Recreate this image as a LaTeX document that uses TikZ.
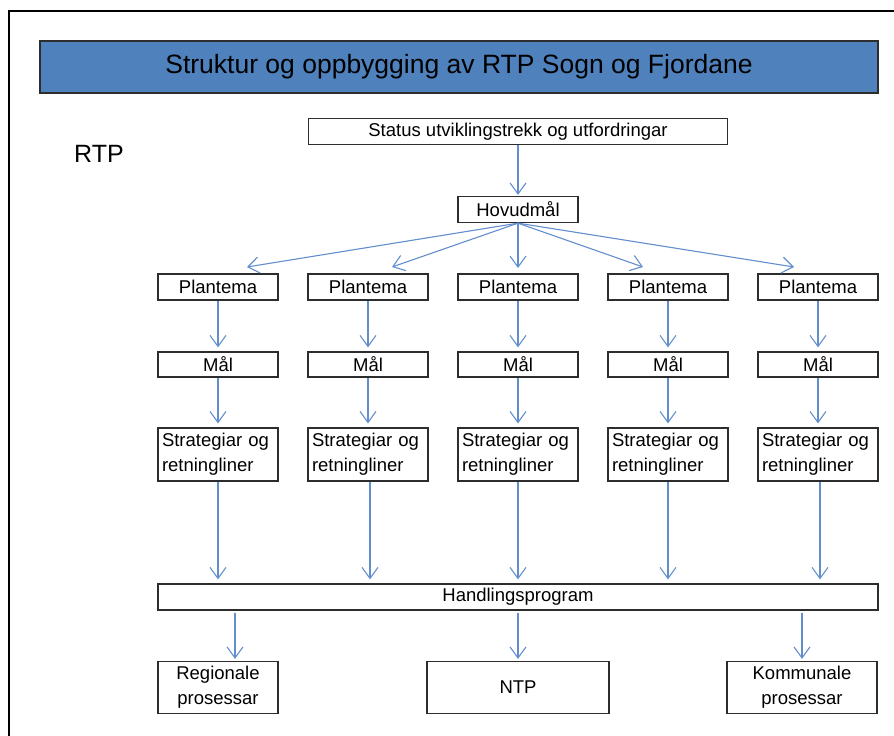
\documentclass[tikz,border=0pt]{standalone}
\usepackage{fontspec}
\setmainfont{Liberation Sans}
\usetikzlibrary{arrows.meta}

\definecolor{titleblue}{RGB}{79,129,189}
\definecolor{arrowblue}{RGB}{98,142,205}
\definecolor{boxline}{RGB}{45,45,45}

\tikzset{
  box/.style={draw=boxline, line width=1.3pt, minimum width=120pt, minimum height=26pt,
    inner sep=0pt, font=\fontsize{18.5}{25}\selectfont},
  twoline/.style={box, minimum height=52pt, align=center},
  stratbox/.style={box, text width=112pt, inner xsep=4pt, minimum height=53pt, align=left},
  pil/.style={draw=arrowblue, line width=1.1pt, -{Straight Barb[length=11pt, width=16pt]}}
}

\begin{document}
\begin{tikzpicture}[x=1pt, y=-1pt]
\useasboundingbox (0,0) rectangle (894,736);

% ramme og tittel
\draw[line width=2.5pt] (894,11) -- (9,11) -- (9,736);
\node[draw=boxline, line width=1.3pt, fill=titleblue, minimum width=838pt, minimum height=52pt,
  font=\fontsize{26.5}{30}\selectfont] (tittel) at (459,67) {Struktur og oppbygging av RTP Sogn og Fjordane};
\node[font=\fontsize{25}{30}\selectfont, inner sep=0pt] (rtp) at (99,154) {RTP};

\node[box, minimum width=419pt] (status) at (518,131.5) {Status utviklingstrekk og utfordringar};
\node[box] (hovud) at (518,209.5) {Hovudmål};

\node[box] (p1) at (218,287) {Plantema};
\node[box] (p2) at (368,287) {Plantema};
\node[box] (p3) at (518,287) {Plantema};
\node[box] (p4) at (668,287) {Plantema};
\node[box] (p5) at (818,287) {Plantema};

\node[box, minimum height=25pt] (m1) at (218,364.5) {Mål};
\node[box, minimum height=25pt] (m2) at (368,364.5) {Mål};
\node[box, minimum height=25pt] (m3) at (518,364.5) {Mål};
\node[box, minimum height=25pt] (m4) at (668,364.5) {Mål};
\node[box, minimum height=25pt] (m5) at (818,364.5) {Mål};

\node[stratbox] (s1) at (218,454.5) {Strategiar og\\retningliner};
\node[stratbox] (s2) at (368,454.5) {Strategiar og\\retningliner};
\node[stratbox] (s3) at (518,454.5) {Strategiar og\\retningliner};
\node[stratbox] (s4) at (668,454.5) {Strategiar og\\retningliner};
\node[stratbox] (s5) at (818,454.5) {Strategiar og\\retningliner};

\node[box, minimum width=720pt] (hp) at (518,597) {Handlingsprogram};

\node[twoline] (reg) at (218,687.5) {Regionale\\prosessar};
\node[twoline, minimum width=182pt] (ntp) at (518,687.5) {NTP};
\node[twoline, minimum width=150pt] (kom) at (802,687.5) {Kommunale\\prosessar};

% pilspissar over plantema
\coordinate (t1) at (247,267);
\coordinate (t2) at (392,267);
\coordinate (t3) at (518,268);
\coordinate (t4) at (643,267);
\coordinate (t5) at (794,267);

\draw[pil, shorten >=1pt] (status) -- (hovud);
\draw[pil] (hovud.south) -- (t1);
\draw[pil] (hovud.south) -- (t2);
\draw[pil] (hovud.south) -- (t3);
\draw[pil] (hovud.south) -- (t4);
\draw[pil] (hovud.south) -- (t5);

\draw[pil, shorten >=4pt] (p1) -- (m1);
\draw[pil, shorten >=4pt] (p2) -- (m2);
\draw[pil, shorten >=4pt] (p3) -- (m3);
\draw[pil, shorten >=4pt] (p4) -- (m4);
\draw[pil, shorten >=4pt] (p5) -- (m5);

\draw[pil, shorten >=4pt] (m1) -- (s1);
\draw[pil, shorten >=4pt] (m2) -- (s2);
\draw[pil, shorten >=4pt] (m3) -- (s3);
\draw[pil, shorten >=4pt] (m4) -- (s4);
\draw[pil, shorten >=4pt] (m5) -- (s5);

\draw[pil, shorten >=4pt] (s1.south) -- (s1.south |- hp.north);
\draw[pil, shorten >=4pt] ([xshift=2pt]s2.south) -- ([xshift=2pt]s2.south |- hp.north);
\draw[pil, shorten >=4pt] (s3.south) -- (s3.south |- hp.north);
\draw[pil, shorten >=4pt] (s4.south) -- (s4.south |- hp.north);
\draw[pil, shorten >=4pt] ([xshift=2pt]s5.south) -- ([xshift=2pt]s5.south |- hp.north);

\draw[pil, shorten <=2pt, shorten >=2pt] ([xshift=17pt]reg.north |- hp.south) -- ([xshift=17pt]reg.north);
\draw[pil, shorten <=2pt, shorten >=2pt] (ntp.north |- hp.south) -- (ntp.north);
\draw[pil, shorten <=2pt, shorten >=2pt] (kom.north |- hp.south) -- (kom.north);

\end{tikzpicture}
\end{document}
